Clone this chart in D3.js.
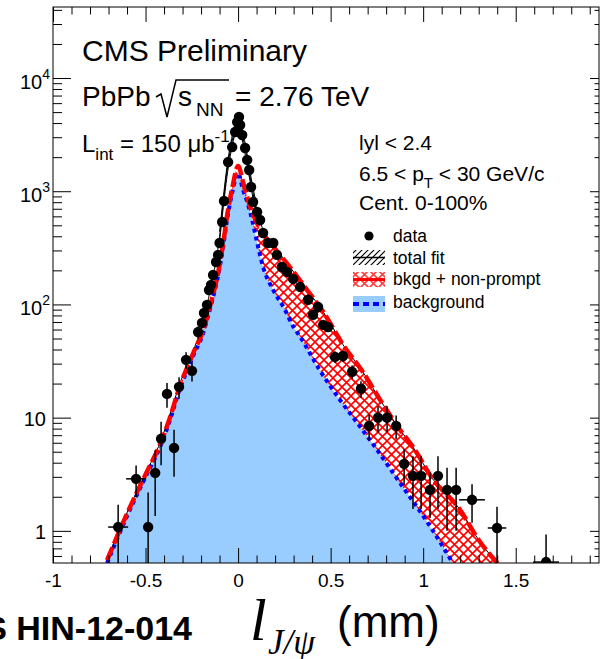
<!DOCTYPE html>
<html><head><meta charset="utf-8">
<script src="https://cdn.jsdelivr.net/npm/d3@7"></script>
<style>
body{margin:0;background:#fff}
svg{display:block}
text{font-family:"Liberation Sans",Arial,Helvetica,sans-serif;white-space:pre}
text.serif{font-family:"Liberation Serif","Times New Roman",serif;font-style:italic}
</style>
</head><body>
<svg id="c" width="600" height="659"></svg>
<script>
// ---------- axes ----------
const xDomain = [-1, 1.95];
const yDomain = [0.52, 42400];
const xMajor = [-1, -0.5, 0, 0.5, 1, 1.5];
const xTickLabels = ["-1", "-0.5", "0", "0.5", "1", "1.5"];
const yMajor = [1, 10, 100, 1000, 10000];
const yTickBase = ["1", "10", "10", "10", "10"];
const yTickExp = ["", "", "2", "3", "4"];

// ---------- data points (l [mm], counts, y error, half bin width) ----------
const dataL = [-0.648,-0.551,-0.486,-0.448,-0.416,-0.384,-0.346,-0.319,-0.281,-0.249,
  -0.216,-0.195,-0.184,-0.168,-0.157,-0.146,-0.135,-0.119,-0.108,-0.100,
  -0.086,-0.076,-0.054,-0.032,-0.016,-0.005,0.005,0.011,0.022,0.038,
  0.049,0.060,0.070,0.081,0.103,0.119,0.135,0.162,0.190,0.210,
  0.237,0.264,0.298,0.335,0.378,0.405,0.432,0.460,0.486,0.524,
  0.567,0.616,0.664,0.708,0.756,0.805,0.854,0.897,0.945,0.989,
  1.037,1.080,1.129,1.178,1.264,1.399,1.664];
const dataV = [1.08,2.88,1.08,3.25,6.5,16.2,5.4,18.7,32.4,25.9,
  57,68.7,84,99,134,149,182,237,274,349,
  535,820,1810,2455,3335,4080,4530,3845,3140,2410,
  1890,1540,1090,804,656,557,428,349,349,274,
  214,194,168,143,110,81,95,66,63,34.4,
  35,25.4,18,8.45,10,10,8.45,3.9,3.06,3.06,
  2.3,3.06,2.3,2.3,1.88,1.06,0.53];
const dataErr = [0.62,0.9,1.1,1.9,2.7,4.0,2.4,4.0,5.5,5.0,
  7,7.5,8,9,10,11,12,14,15,17,
  21,26,38,45,52,58,60,56,50,44,
  39,35,30,25,23,21,18,16,16,14,
  13,12,11,9,8,7,7,6,6,4,
  4,3.5,3,2.2,2.6,2.6,2.0,1.35,1.5,1.5,
  1.0,1.5,1.3,1.3,0.7,0.57,0.4];
const dataXErr = [0.054,0.054,0.02,0.015,0.015,0.015,0.015,0.01,0.01,0.01,
  0.01,0.01,0.01,0.01,0.005,0.005,0.005,0.005,0.005,0.005,
  0.005,0.005,0.005,0.005,0.005,0.005,0.005,0.005,0.005,0.005,
  0.005,0.005,0.005,0.005,0.005,0.005,0.005,0.005,0.01,0.01,
  0.01,0.01,0.01,0.01,0.01,0.01,0.01,0.01,0.01,0.015,
  0.015,0.015,0.015,0.02,0.02,0.02,0.02,0.02,0.02,0.02,
  0.02,0.02,0.02,0.02,0.07,0.05,0.07];

// ---------- fit curves ----------
const bgL = [-0.708,-0.6,-0.5,-0.42,-0.37,-0.31,-0.276,-0.24,-0.19,-0.168,-0.14,-0.113,-0.08,-0.06,-0.03,0,
  0.027,0.05,0.076,0.1,0.135,0.19,0.25,0.3,0.335,0.44,0.55,0.66,0.74,0.875,1.05,1.16];
const bgV = [0.52,1.35,3.0,5.6,9.3,19,26,36,55,73,108,164,330,557,1000,1450,
  1020,800,557,370,215,134,92,63,52,26.5,14.4,8.3,5.5,2.65,1.02,0.52];

const npL = [-0.708,-0.6,-0.5,-0.42,-0.37,-0.31,-0.276,-0.24,-0.19,-0.168,-0.14,-0.113,-0.08,-0.06,-0.03,0,
  0.03,0.065,0.12,0.19,0.28,0.373,0.46,0.513,0.567,0.67,0.767,0.875,0.945,1.05,1.2,1.3,1.41];
const npV = [0.55,1.42,3.15,5.9,9.8,20,27.5,38,58,77,114,173,350,600,1100,1670,
  1150,730,460,325,214,134,86,62,44,26,14.4,7.8,5.5,2.9,1.53,0.83,0.5];

const fitL = [-0.708,-0.6,-0.5,-0.42,-0.37,-0.31,-0.24,-0.19,-0.15,-0.12,-0.1,-0.08,-0.06,-0.04,-0.02,0,
  0.02,0.04,0.06,0.08,0.1,0.13,0.16,0.19,0.28,0.373,0.46,0.513,0.567,0.67,0.767,0.875,0.945,1.05,1.2,1.3,1.41];
const fitV = [0.56,1.45,3.2,6.1,10.5,21,40,68,135,240,400,800,1500,2400,3400,4300,
  3300,2300,1500,980,700,480,390,335,214,134,86,62,44,26,14.4,7.8,5.5,2.9,1.53,0.83,0.5];

const bandL  = [-0.1,-0.08,-0.06,-0.04,-0.02,0,0.02,0.04,0.06,0.08,0.1];
const bandHi = [440,880,1650,2650,3750,4750,3650,2550,1650,1080,770];
const bandLo = [360,720,1350,2150,3050,3850,2950,2050,1350,880,630];

const legendLabels = ["data", "total fit", "bkgd + non-prompt", "background"];

// ---------- setup ----------
const L = 53, R = 599, T = 7, B = 563;
const svg = d3.select("#c");
const x = d3.scaleLinear().domain(xDomain).range([L, R]);
const y = d3.scaleLog().domain(yDomain).range([B, T]);
const yc = v => y(Math.max(v, 1e-3));

const defs = svg.append("defs");
defs.append("clipPath").attr("id", "clip").append("rect")
  .attr("x", L).attr("y", T).attr("width", R - L).attr("height", B - T);
const pr = defs.append("pattern").attr("id", "redHatch").attr("patternUnits", "userSpaceOnUse")
  .attr("width", 9).attr("height", 9);
pr.append("rect").attr("width", 9).attr("height", 9).attr("fill", "#fff");
pr.append("path").attr("d", "M0,0L9,9M9,0L0,9").attr("stroke", "#ff0000").attr("stroke-width", 1.6);
const pb = defs.append("pattern").attr("id", "blackHatch").attr("patternUnits", "userSpaceOnUse")
  .attr("width", 6).attr("height", 6);
pb.append("path").attr("d", "M0,6L6,0M-1,1L1,-1M5,7L7,5").attr("stroke", "#000").attr("stroke-width", 1.2);

const pts = (ls, vs) => ls.map((l, i) => ({ l, v: vs[i] }));
const bgPts = pts(bgL, bgV), npPts = pts(npL, npV), fitPts = pts(fitL, fitV);
const bandPts = bandL.map((l, i) => ({ l, hi: bandHi[i], lo: bandLo[i] }));

const g = svg.append("g").attr("clip-path", "url(#clip)");
const area = d3.area().x(d => x(d.l)).y0(B + 20).y1(d => yc(d.v)).curve(d3.curveMonotoneX);
const line = d3.line().x(d => x(d.l)).y(d => yc(d.v)).curve(d3.curveMonotoneX);

g.append("path").attr("d", area(npPts)).attr("fill", "url(#redHatch)");
g.append("path").attr("d", area(bgPts)).attr("fill", "#99ccff");
g.append("path").attr("d", d3.area().x(d => x(d.l)).y0(d => y(d.lo)).y1(d => y(d.hi)).curve(d3.curveMonotoneX)(bandPts))
  .attr("fill", "url(#blackHatch)");
g.append("path").attr("d", d3.line().x(d => x(d.l)).y(d => y(d.hi)).curve(d3.curveMonotoneX)(bandPts))
  .attr("fill", "none").attr("stroke", "#000").attr("stroke-width", 1);
g.append("path").attr("d", d3.line().x(d => x(d.l)).y(d => y(d.lo)).curve(d3.curveMonotoneX)(bandPts))
  .attr("fill", "none").attr("stroke", "#000").attr("stroke-width", 1);
g.append("path").attr("d", line(bgPts)).attr("fill", "none").attr("stroke", "#0000ff")
  .attr("stroke-width", 4).attr("stroke-dasharray", "4,4");
g.append("path").attr("d", line(fitPts)).attr("fill", "none").attr("stroke", "#000").attr("stroke-width", 1);
g.append("path").attr("d", line(npPts)).attr("fill", "none").attr("stroke", "#ff0000")
  .attr("stroke-width", 4.5).attr("stroke-dasharray", "14,4");

const data = dataL.map((l, i) => ({ l, v: dataV[i], e: dataErr[i], xe: dataXErr[i] }));
const dg = g.append("g");
dg.selectAll("line.ey").data(data).join("line").attr("class", "ey")
  .attr("x1", d => x(d.l)).attr("x2", d => x(d.l))
  .attr("y1", d => yc(d.v + d.e)).attr("y2", d => yc(d.v - d.e))
  .attr("stroke", "#000").attr("stroke-width", 1.5);
dg.selectAll("line.ex").data(data).join("line").attr("class", "ex")
  .attr("x1", d => x(d.l - d.xe)).attr("x2", d => x(d.l + d.xe))
  .attr("y1", d => y(d.v)).attr("y2", d => y(d.v))
  .attr("stroke", "#000").attr("stroke-width", 1.5);
dg.selectAll("circle").data(data).join("circle")
  .attr("cx", d => x(d.l)).attr("cy", d => y(d.v)).attr("r", 5.2).attr("fill", "#000");

// ---------- axes ----------
const xMinor = d3.range(-10, 20).map(i => i / 10).filter(v => !xMajor.some(m => Math.abs(m - v) < 1e-9));
const yMinor = [];
for (let e = -1; e <= 4; e++) for (let k = 2; k <= 9; k++) {
  const v = k * Math.pow(10, e);
  if (v > yDomain[0] && v < yDomain[1]) yMinor.push(v);
}
function styleAxis(sel) {
  sel.select(".domain").remove();
  sel.selectAll(".tick line").attr("stroke", "#000").attr("stroke-width", 1);
}
const ax = svg.append("g");
ax.append("g").attr("transform", `translate(0,${B})`)
  .call(d3.axisBottom(x).tickValues(xMajor).tickSize(-15).tickPadding(11).tickFormat((d, i) => xTickLabels[i]))
  .call(styleAxis)
  .call(s => s.selectAll("text").attr("font-size", 19).attr("fill", "#000"));
ax.append("g").attr("transform", `translate(0,${B})`)
  .call(d3.axisBottom(x).tickValues(xMinor).tickSize(-7.5).tickFormat("")).call(styleAxis);
ax.append("g").attr("transform", `translate(0,${T})`)
  .call(d3.axisTop(x).tickValues(xMajor).tickSize(-15).tickFormat("")).call(styleAxis);
ax.append("g").attr("transform", `translate(0,${T})`)
  .call(d3.axisTop(x).tickValues(xMinor).tickSize(-7.5).tickFormat("")).call(styleAxis);
ax.append("g").attr("transform", `translate(${L},0)`)
  .call(d3.axisLeft(y).tickValues(yMajor).tickSize(-18).tickFormat("")).call(styleAxis);
ax.append("g").attr("transform", `translate(${L},0)`)
  .call(d3.axisLeft(y).tickValues(yMinor).tickSize(-9).tickFormat("")).call(styleAxis);
ax.append("g").attr("transform", `translate(${R},0)`)
  .call(d3.axisRight(y).tickValues(yMajor).tickSize(-9).tickFormat("")).call(styleAxis);
ax.append("g").attr("transform", `translate(${R},0)`)
  .call(d3.axisRight(y).tickValues(yMinor).tickSize(-4.5).tickFormat("")).call(styleAxis);

svg.append("rect").attr("x", L).attr("y", T).attr("width", R - L).attr("height", B - T)
  .attr("fill", "none").attr("stroke", "#000").attr("stroke-width", 1);

yMajor.forEach((v, i) => {
  const hasExp = yTickExp[i] !== "";
  const t = svg.append("text").attr("x", hasExp ? 50 : 46).attr("y", y(v) + (hasExp ? 10.5 : 8))
    .attr("text-anchor", "end").attr("font-size", 20);
  t.append("tspan").text(yTickBase[i]);
  if (hasExp) t.append("tspan").attr("dy", -10).attr("font-size", 14).text(yTickExp[i]);
});

// ---------- annotations ----------
svg.append("text").attr("x", 82).attr("y", 61).attr("font-size", 30).text("CMS Preliminary");
svg.append("text").attr("x", 82).attr("y", 106).attr("font-size", 28).text("PbPb");
svg.append("path").attr("d", "M156,97L161,94L167,117L176,80L229,80")
  .attr("fill", "none").attr("stroke", "#000").attr("stroke-width", 1.5);
svg.append("text").attr("x", 178).attr("y", 106).attr("font-size", 28).text("s");
svg.append("text").attr("x", 196).attr("y", 116).attr("font-size", 19).text("NN");
svg.append("text").attr("x", 235).attr("y", 106).attr("font-size", 28).text("= 2.76 TeV");

const lt = svg.append("text").attr("x", 82).attr("y", 152).attr("font-size", 24);
lt.append("tspan").text("L");
lt.append("tspan").attr("dy", 8).attr("font-size", 17).text("int");
lt.append("tspan").attr("dy", -8).text(" = 150 \u03BCb");
lt.append("tspan").attr("dy", -10).attr("font-size", 17).text("-1");

svg.append("text").attr("x", 359).attr("y", 150).attr("font-size", 21).text("lyl < 2.4");
const pt = svg.append("text").attr("x", 359).attr("y", 181).attr("font-size", 21);
pt.append("tspan").text("6.5 < p");
pt.append("tspan").attr("dy", 7).attr("font-size", 15).text("T");
pt.append("tspan").attr("dy", -7).text(" < 30 GeV/c");
svg.append("text").attr("x", 359).attr("y", 210).attr("font-size", 21).text("Cent. 0-100%");

// ---------- legend ----------
const lg = svg.append("g");
const lx = 353, lw = 32;
lg.append("circle").attr("cx", 369).attr("cy", 236).attr("r", 4.6).attr("fill", "#000");
lg.append("rect").attr("x", lx).attr("y", 250).attr("width", lw).attr("height", 15).attr("fill", "url(#blackHatch)");
lg.append("line").attr("x1", lx).attr("x2", lx + lw).attr("y1", 257.5).attr("y2", 257.5).attr("stroke", "#000").attr("stroke-width", 1.5);
lg.append("rect").attr("x", lx).attr("y", 272).attr("width", lw).attr("height", 15).attr("fill", "url(#redHatch)").attr("opacity", 0.75);
lg.append("line").attr("x1", lx).attr("x2", lx + lw).attr("y1", 279.5).attr("y2", 279.5).attr("stroke", "#ff0000").attr("stroke-width", 3);
lg.append("rect").attr("x", lx).attr("y", 296).attr("width", lw).attr("height", 16).attr("fill", "#99ccff");
lg.append("line").attr("x1", lx).attr("x2", lx + lw).attr("y1", 304).attr("y2", 304).attr("stroke", "#0000ff").attr("stroke-width", 4).attr("stroke-dasharray", "6,4");
const legY = [242, 264, 285, 308];
legendLabels.forEach((s, i) => lg.append("text").attr("x", 393).attr("y", legY[i]).attr("font-size", 17.5).text(s));

// ---------- bottom labels ----------
svg.append("text").attr("x", 192).attr("y", 640).attr("text-anchor", "end")
  .attr("font-size", 34).attr("font-weight", "bold").text("CMS HIN-12-014");
svg.append("text").attr("class", "serif").attr("x", 250).attr("y", 640).attr("font-size", 60).text("l");
svg.append("text").attr("class", "serif").attr("x", 268).attr("y", 654).attr("font-size", 35).text("J/\u03C8");
svg.append("text").attr("x", 337).attr("y", 637).attr("font-size", 44).text("(mm)");
</script>
</body></html>
